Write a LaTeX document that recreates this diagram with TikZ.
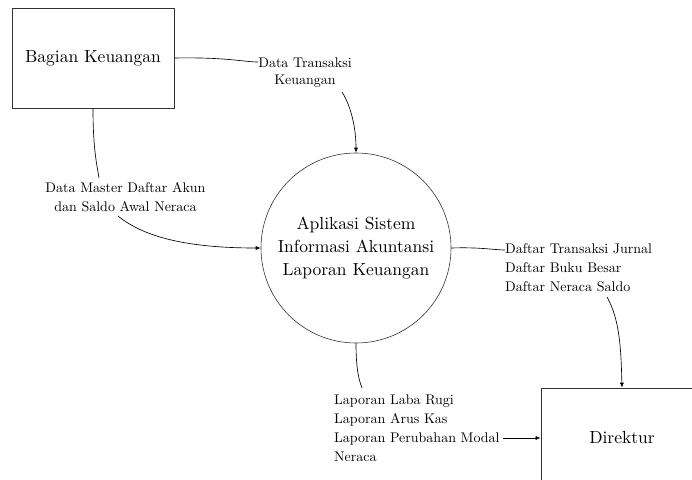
\documentclass[tikz,border=0pt]{standalone}
\usepackage{fontspec}
\setmainfont{lmroman10-regular.otf}
\usetikzlibrary{arrows.meta}
\tikzset{
  entity/.style={draw=black!80, line width=0.7pt, rectangle, minimum width=162pt, minimum height=100pt, inner sep=0pt, font=\fontsize{17.5}{23}\selectfont},
  proc/.style={draw=black!80, line width=0.6pt, circle, minimum size=190pt, inner sep=0pt, align=center, font=\fontsize{17.5}{23}\selectfont},
  lbl/.style={inner sep=0pt, font=\fontsize{14}{19}\selectfont},
  flow/.style={draw=black, line width=0.65pt},
  tip/.style={-{Latex[length=5pt,width=4pt]}}
}
\begin{document}
\begin{tikzpicture}[x=1pt,y=-1pt]
\useasboundingbox (0,0) rectangle (692,479);
\clip (0,0) rectangle (692,479);
\node[entity] (bagian) at (93,58) {Bagian Keuangan};
\node[proc] (sys) at (356,248) {Aplikasi Sistem\\Informasi Akuntansi\\Laporan Keuangan};
\node[entity] (dir) at (622,438) {Direktur};
\node[lbl, align=center, font=\fontsize{14}{17}\selectfont] (lt) at (305,73) {Data Transaksi\\Keuangan};
\node[lbl, align=center] (lm) at (125.5,197.5) {Data Master Daftar Akun\\dan Saldo Awal Neraca};
\node[lbl, align=left, anchor=west] (ld) at (505,268) {Daftar Transaksi Jurnal\\Daftar Buku Besar\\Daftar Neraca Saldo};
\node[lbl, align=left, anchor=west] (ll) at (334,428.5) {Laporan Laba Rugi\\Laporan Arus Kas\\Laporan Perubahan Modal\\Neraca};
\coordinate (ltin) at (258,62);
\coordinate (ltout) at (342,92);
\coordinate (lmin) at (99,178);
\coordinate (lmout) at (118,216);
\coordinate (ldin) at (505,250);
\coordinate (ldout) at (607,297);
\coordinate (llin) at (362,388);
\coordinate (llout) at (503,438);
\draw[flow] (bagian.east) .. controls (225,57) and (245,62) .. (ltin);
\draw[flow,tip] (ltout) .. controls (352,108) and (356,130) .. (sys.north);
\draw[flow] (bagian.south) .. controls (93,150) and (97,165) .. (lmin);
\draw[flow,tip] (lmout) .. controls (145,238) and (190,248) .. (sys.west);
\draw[flow] (sys.east) .. controls (480,247) and (495,250) .. (ldin);
\draw[flow,tip] (ldout) .. controls (620,320) and (621,350) .. (dir.north);
\draw[flow] (sys.south) .. controls (356,365) and (358,378) .. (llin);
\draw[flow,tip] (llout) -- (dir.west);
\end{tikzpicture}
\end{document}
